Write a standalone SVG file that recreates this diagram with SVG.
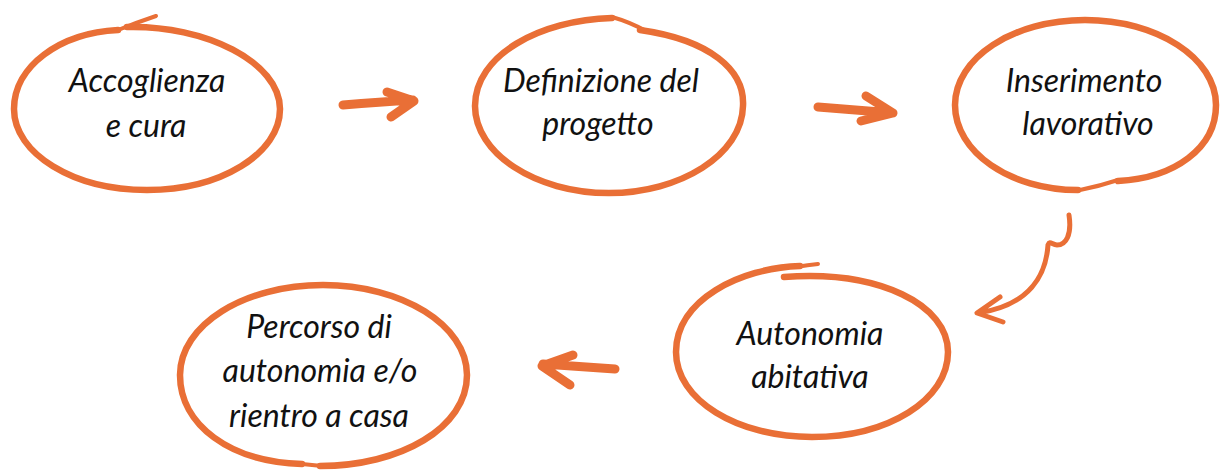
<svg xmlns="http://www.w3.org/2000/svg" width="1224" height="473" viewBox="0 0 1224 473">
<style>
.ring{fill:none;stroke:#E96F36;stroke-width:6.5;stroke-linecap:round;stroke-linejoin:round}
.tail{fill:none;stroke:#E96F36;stroke-width:4;stroke-linecap:round}
.arr{fill:none;stroke:#E96F36;stroke-width:9;stroke-linecap:round;stroke-linejoin:round}
.arr-thin{fill:none;stroke:#E96F36;stroke-width:5;stroke-linecap:round;stroke-linejoin:round}
text{font-family:Lato,"Open Sans","Liberation Sans",sans-serif;font-style:italic;font-size:32px;fill:#111;text-anchor:middle}
</style>
<rect width="1224" height="473" fill="#fff"/>
<g id="node-accoglienza">
<path class="ring" d="M 127,27 C 205,25 280,62 280,109 C 280,153.7 220.5,190 147,190 C 73.5,190 14,153.7 14,109 C 14,66 60,33 118,30"/>
<path class="tail" d="M 118,30 Q 138,22 156,16"/>
<text x="147" y="92">Accoglienza</text>
<text x="146" y="137">e cura</text>
</g>
<g id="node-definizione">
<path class="ring" d="M 640,30 C 710,40 745,70 743,106 C 742,155 680,193 609,193 C 535,193 475,153 475,106 C 475,55 540,20 612,18"/>
<path class="tail" d="M 612,17 Q 630,22 648,32"/>
<text x="601" y="92">Definizione del</text>
<text x="598" y="135">progetto</text>
</g>
<g id="node-inserimento">
<path class="ring" d="M 1078,190 C 1010,190 955,152 955,105 C 955,58 1013,20 1085,20 C 1157,20 1216,58 1216,105 C 1216,148 1175,178 1118,181"/>
<path class="tail" d="M 1118,180 Q 1100,186 1080,190"/>
<text x="1084" y="92">Inserimento</text>
<text x="1088" y="135">lavorativo</text>
</g>
<g id="node-autonomia">
<path class="ring" d="M 784,277 C 880,270 948,305 948,352 C 948,400 888,437 812,437 C 737,437 676,400 676,352 C 676,300 740,268 800,266"/>
<path class="tail" d="M 796,267 Q 808,265 818,264"/>
<text x="810" y="345">Autonomia</text>
<text x="810" y="388">abitativa</text>
</g>
<g id="node-percorso">
<path class="ring" d="M 302,464 C 230,462 180,425 180,375 C 180,325 244,285 323,285 C 402,285 467,325 467,375 C 467,428 400,466 320,466"/>
<path class="tail" d="M 322,466 L 292,463"/>
<text x="319" y="338">Percorso di</text>
<text x="320" y="382">autonomia e/o</text>
<text x="319" y="427">rientro a casa</text>
</g>
<g id="connectors">
<path class="arr" d="M 343,105 Q 380,102 413,100 M 387,92 L 414,101 L 391,117"/>
<path class="arr" d="M 818,107 L 893,113 M 866,96 L 893,113 L 861,121"/>
<path class="arr-thin" d="M 1069,215 C 1072,235 1066,245 1057,245 C 1052,245 1050,240 1048,245 C 1046,275 1030,305 978,313 M 1000,297 L 977,313 L 1003,322"/>
<path class="arr" d="M 615,369 L 543,364 M 573,355 L 542,366 L 570,385"/>
</g>
</svg>
